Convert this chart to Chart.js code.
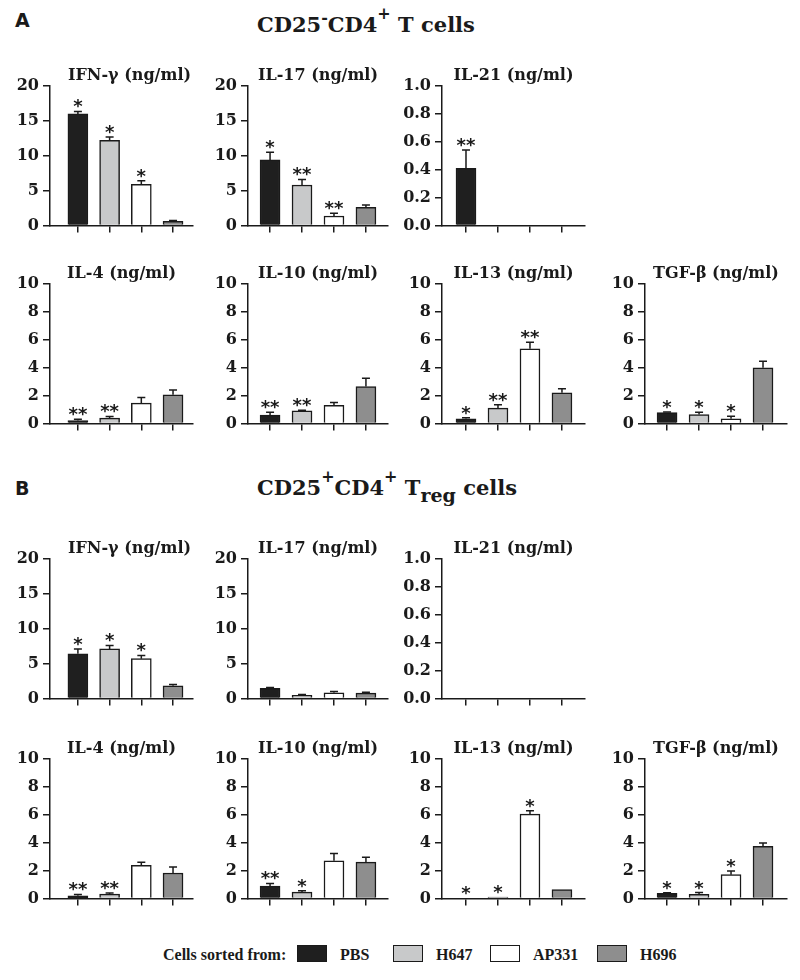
<!DOCTYPE html>
<html>
<head>
<meta charset="utf-8">
<script src="https://cdn.jsdelivr.net/npm/chart.js@4.4.0/dist/chart.umd.min.js"></script>
<style>
  body { margin: 0; background: #fff; }
  #page { position: relative; width: 800px; height: 980px; overflow: hidden; }
  #page canvas { position: absolute; }
  .letter { position: absolute; font-family: "DejaVu Sans"; font-weight: bold; font-size: 19px; line-height: 22px; color: #1a1a1a; }
  .head { position: absolute; font-family: "DejaVu Serif"; font-weight: bold; font-size: 21px; line-height: 26px; color: #1a1a1a; white-space: nowrap; }
  .head .up { position: relative; font-size: 16px; }
  .head .down { position: relative; font-size: 19px; top: 7px; }
  .leg { position: absolute; font-family: "Liberation Serif"; font-weight: bold; font-size: 16px; line-height: 18px; color: #1a1a1a; white-space: nowrap; }
  .box { position: absolute; width: 28px; height: 15px; border: 1.5px solid #1a1a1a; }
</style>
</head>
<body>
<div id="page">
  <div class="letter" style="left:15px; top:9px">A</div>
  <div class="head" style="left:257px; top:12px">CD25<span class="up" style="top:-9px">-</span>CD4<span class="up" style="top:-13px">+</span> T cells</div>
  <div class="letter" style="left:15px; top:477px">B</div>
  <div class="head" style="left:257px; top:475px">CD25<span class="up" style="top:-13px">+</span>CD4<span class="up" style="top:-13px">+</span> T<span class="down">reg</span> cells</div>
  <div id="legend"></div>
</div>
<script>
const groups = ["PBS", "H647", "AP331", "H696"];
const fills = ["#1f1f1f", "#c8c9ca", "#ffffff", "#8e8e8e"];

// A: CD25-CD4+ T cells
const aIfng = [16.0, 12.2, 5.9, 0.6];
const aIfngErr = [0.35, 0.5, 0.5, 0.1];
const aIfngSig = ["*", "*", "*", ""];
const aIl17 = [9.4, 5.8, 1.35, 2.6];
const aIl17Err = [1.1, 0.8, 0.38, 0.33];
const aIl17Sig = ["*", "**", "**", ""];
const aIl21 = [0.41, 0, 0, 0];
const aIl21Err = [0.13, 0, 0, 0];
const aIl21Sig = ["**", "", "", ""];
const aIl4 = [0.2, 0.38, 1.46, 2.05];
const aIl4Err = [0.1, 0.12, 0.4, 0.35];
const aIl4Sig = ["**", "**", "", ""];
const aIl10 = [0.59, 0.9, 1.3, 2.64];
const aIl10Err = [0.21, 0.04, 0.2, 0.59];
const aIl10Sig = ["**", "**", "", ""];
const aIl13 = [0.33, 1.1, 5.35, 2.2];
const aIl13Err = [0.07, 0.24, 0.48, 0.28];
const aIl13Sig = ["*", "**", "**", ""];
const aTgfb = [0.78, 0.64, 0.33, 3.99];
const aTgfbErr = [0.04, 0.16, 0.19, 0.47];
const aTgfbSig = ["*", "*", "*", ""];

// B: CD25+CD4+ Treg cells
const bIfng = [6.4, 7.1, 5.7, 1.8];
const bIfngErr = [0.7, 0.5, 0.46, 0.2];
const bIfngSig = ["*", "*", "*", ""];
const bIl17 = [1.43, 0.43, 0.81, 0.76];
const bIl17Err = [0.14, 0.14, 0.19, 0.14];
const bIl17Sig = ["", "", "", ""];
const bIl21 = [0, 0, 0, 0];
const bIl21Err = [0, 0, 0, 0];
const bIl21Sig = ["", "", "", ""];
const bIl4 = [0.19, 0.31, 2.37, 1.82];
const bIl4Err = [0.09, 0.07, 0.23, 0.43];
const bIl4Sig = ["**", "**", "", ""];
const bIl10 = [0.88, 0.45, 2.7, 2.6];
const bIl10Err = [0.19, 0.1, 0.52, 0.36];
const bIl10Sig = ["**", "*", "", ""];
const bIl13 = [0, 0.1, 6.04, 0.64];
const bIl13Err = [0, 0, 0.24, 0];
const bIl13Sig = ["*", "*", "*", ""];
const bTgfb = [0.36, 0.3, 1.7, 3.74];
const bTgfbErr = [0.04, 0.12, 0.27, 0.24];
const bTgfbSig = ["*", "*", "*", ""];

// layout of the small plots (y axis x, plot width, x range) and plot tops
const cols = [
  { axisX: 50, w: 143, min: -0.88, max: 3.63 },
  { axisX: 248, w: 140, min: -0.69, max: 3.69 },
  { axisX: 442, w: 143, min: -0.75, max: 3.72 },
  { axisX: 645, w: 142, min: -0.69, max: 3.75 }
];
const rows = [86, 284, 559, 759];
const plotH = 141;

const panels = [
  { row: 0, col: 0, title: "IFN-γ (ng/ml)", max: 20, step: 5, v: aIfng, e: aIfngErr, s: aIfngSig, dx: 8 },
  { row: 0, col: 1, title: "IL-17 (ng/ml)", max: 20, step: 5, v: aIl17, e: aIl17Err, s: aIl17Sig },
  { row: 0, col: 2, title: "IL-21 (ng/ml)", max: 1, step: 0.2, v: aIl21, e: aIl21Err, s: aIl21Sig },
  { row: 1, col: 0, title: "IL-4 (ng/ml)", max: 10, step: 2, v: aIl4, e: aIl4Err, s: aIl4Sig },
  { row: 1, col: 1, title: "IL-10 (ng/ml)", max: 10, step: 2, v: aIl10, e: aIl10Err, s: aIl10Sig },
  { row: 1, col: 2, title: "IL-13 (ng/ml)", max: 10, step: 2, v: aIl13, e: aIl13Err, s: aIl13Sig },
  { row: 1, col: 3, title: "TGF-β (ng/ml)", max: 10, step: 2, v: aTgfb, e: aTgfbErr, s: aTgfbSig },
  { row: 2, col: 0, title: "IFN-γ (ng/ml)", max: 20, step: 5, v: bIfng, e: bIfngErr, s: bIfngSig, dx: 8 },
  { row: 2, col: 1, title: "IL-17 (ng/ml)", max: 20, step: 5, v: bIl17, e: bIl17Err, s: bIl17Sig },
  { row: 2, col: 2, title: "IL-21 (ng/ml)", max: 1, step: 0.2, v: bIl21, e: bIl21Err, s: bIl21Sig },
  { row: 3, col: 0, title: "IL-4 (ng/ml)", max: 10, step: 2, v: bIl4, e: bIl4Err, s: bIl4Sig },
  { row: 3, col: 1, title: "IL-10 (ng/ml)", max: 10, step: 2, v: bIl10, e: bIl10Err, s: bIl10Sig },
  { row: 3, col: 2, title: "IL-13 (ng/ml)", max: 10, step: 2, v: bIl13, e: bIl13Err, s: bIl13Sig },
  { row: 3, col: 3, title: "TGF-β (ng/ml)", max: 10, step: 2, v: bTgfb, e: bTgfbErr, s: bTgfbSig }
];

const ink = "#1a1a1a";
const page = document.getElementById("page");

panels.forEach(p => {
  const c = cols[p.col];
  const canvas = document.createElement("canvas");
  canvas.width = 50 + c.w + 6;
  canvas.height = 22 + plotH + 7 + 5;
  canvas.style.left = (c.axisX - 50) + "px";
  canvas.style.top = (rows[p.row] - 22) + "px";
  page.appendChild(canvas);

  // error bars, significance stars and the plot title
  const extras = {
    id: "extras",
    afterDatasetsDraw(chart) {
      const ctx = chart.ctx;
      const y = chart.scales.y;
      const area = chart.chartArea;
      ctx.save();
      ctx.strokeStyle = ink;
      ctx.fillStyle = ink;
      ctx.lineWidth = 1.5;
      chart.getDatasetMeta(0).data.forEach((bar, i) => {
        const top = y.getPixelForValue(p.v[i] + p.e[i]);
        if (p.e[i] > 0) {
          ctx.beginPath();
          ctx.moveTo(bar.x, bar.y);
          ctx.lineTo(bar.x, top);
          ctx.moveTo(bar.x - 4, top);
          ctx.lineTo(bar.x + 4, top);
          ctx.stroke();
        }
        if (p.s[i]) {
          ctx.font = "bold 18px 'DejaVu Sans'";
          ctx.textAlign = "center";
          ctx.textBaseline = "alphabetic";
          ctx.fillText(p.s[i], bar.x, top + 1);
        }
      });
      ctx.font = "bold 16px 'DejaVu Serif'";
      ctx.textAlign = "center";
      ctx.textBaseline = "alphabetic";
      ctx.fillText(p.title, (area.left + area.right) / 2 + (p.dx || 0), area.top - 6);
      ctx.restore();
    }
  };

  new Chart(canvas, {
    type: "bar",
    data: {
      datasets: [{
        label: p.title,
        data: p.v.map((val, i) => ({ x: i, y: val })),
        backgroundColor: fills,
        borderColor: ink,
        borderWidth: 1.5,
        barThickness: 20
      }]
    },
    options: {
      responsive: false,
      animation: false,
      layout: { padding: { top: 22, right: 6, bottom: 5, left: 0 } },
      plugins: { legend: { display: false }, tooltip: { enabled: false } },
      scales: {
        x: {
          type: "linear",
          min: c.min,
          max: c.max,
          offset: false,
          afterBuildTicks: ax => { ax.ticks = groups.map((g, i) => ({ value: i })); },
          ticks: { display: false },
          grid: { offset: false, drawOnChartArea: false, drawTicks: true, tickLength: 7, color: ink, lineWidth: 1.5 },
          border: { display: true, color: ink, width: 1.5 }
        },
        y: {
          min: 0,
          max: p.max,
          afterFit: ax => { ax.width = 50; },
          ticks: {
            stepSize: p.step,
            padding: 4,
            color: ink,
            font: { family: "DejaVu Serif", weight: "bold", size: 16 },
            callback: v => p.max === 1 ? Number(v).toFixed(1) : v
          },
          grid: { drawOnChartArea: false, drawTicks: true, tickLength: 7, color: ink, lineWidth: 1.5 },
          border: { display: true, color: ink, width: 1.5 }
        }
      }
    },
    plugins: [extras]
  });
});

// legend along the bottom
const legend = document.getElementById("legend");
const legendBoxX = [297, 393, 490, 597];
legend.innerHTML = '<div class="leg" style="left:163px; top:946px">Cells sorted from:</div>' +
  groups.map((g, i) =>
    `<div class="box" style="left:${legendBoxX[i]}px; top:945px; background:${fills[i]}"></div>` +
    `<div class="leg" style="left:${legendBoxX[i] + 43}px; top:946px">${g}</div>`
  ).join("");
</script>
</body>
</html>
